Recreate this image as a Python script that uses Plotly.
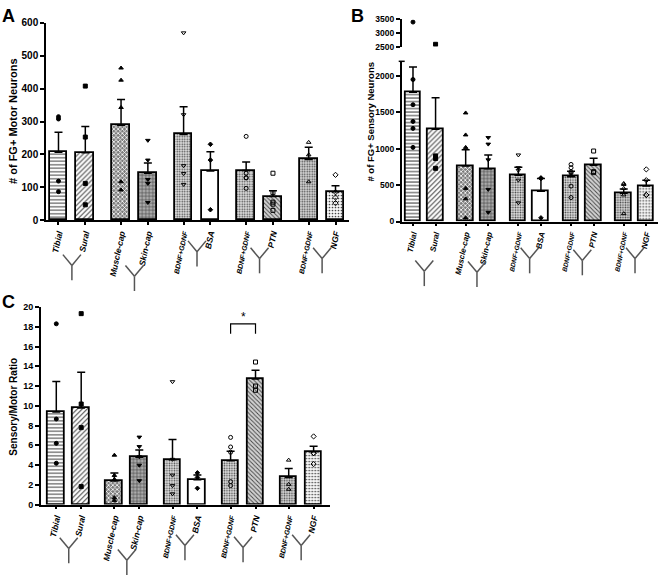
import plotly.graph_objects as go

# ---------------- data ----------------
categories = ["Tibial", "Sural", "Muscle-cap", "Skin-cap", "BDNF+GDNF", "BSA",
              "BDNF+GDNF", "PTN", "BDNF+GDNF", "NGF"]
pair_of = [0, 0, 1, 1, 2, 2, 3, 3, 4, 4]
member_of = [0, 1, 0, 1, 0, 1, 0, 1, 0, 1]

motor_mean = [207, 205, 289, 143, 261, 150, 151, 72, 185, 87]
motor_sem = [61, 80, 78, 31, 84, 58, 26, 18, 37, 18]
motor_points = [[308, 315, 119, 87], [408, 253, 112, 47], [463, 426, 343, 117, 92],
                [243, 183, 124, 112, 54], [570, 321, 166, 142, 109], [231, 183, 32],
                [255, 143, 129, 129, 97], [143, 84, 55, 49, 30], [237, 199, 117],
                [138, 85, 69, 52]]

sensory_mean = [1775, 1268, 761, 723, 636, 416, 614, 772, 387, 489]
sensory_sem = [347, 430, 225, 191, 110, 176, 75, 97, 59, 79]
sensory_points = [[3404, 1950, 1604, 1374, 1279, 1018], [2584, 901, 865, 730],
                  [1491, 1189, 1018, 455, 311, 50], [1153, 1063, 847, 441, 126],
                  [914, 739, 703, 568, 257], [599, 590, 50],
                  [784, 739, 680, 667, 486, 329], [968, 685, 671],
                  [523, 509, 455, 365, 108], [716, 568, 365, 365]]

ratio_mean = [9.37, 9.78, 2.39, 4.78, 4.53, 2.5, 4.44, 12.7, 2.75, 5.34]
ratio_sem = [3.1, 3.62, 0.81, 0.75, 2.07, 0.5, 0.96, 0.9, 0.89, 0.56]
ratio_points = [[18.3, 8.66, 6.2, 4.18], [19.33, 10.18, 7.79, 1.82],
                [5.0, 2.95, 2.55, 0.7, 0.4], [6.83, 5.87, 4.84, 3.98, 2.42],
                [12.44, 4.58, 2.98, 1.92, 1.09], [3.21, 2.75, 1.65],
                [6.8, 5.83, 5.3, 2.32, 1.92], [14.43, 12.0, 11.57],
                [4.5, 2.05, 1.55], [6.9, 5.2, 5.2, 4.1]]

motor_ticks = [0, 100, 200, 300, 400, 500, 600]
sensory_ticks_low = [0, 500, 1000, 1500, 2000]
sensory_ticks_high = [2500, 3000, 3500]
ratio_ticks = [0, 2, 4, 6, 8, 10, 12, 14, 16, 18, 20]

# ---------------- styling ----------------
W, H = 660, 582
FONT = "Liberation Sans, Arial, sans-serif"
GROUP_STEP = 2.333
pos = [p * GROUP_STEP + m for p, m in zip(pair_of, member_of)]

pat_shape = ["-", "/", "x", "+", ".", "", ".", "\\", ".", "."]
pat_fg = ["#6a6a6a", "#5a5a5a", "#262626", "#3c3c3c", "#8a8a8a", "#ffffff",
          "#8a8a8a", "#3a3a3a", "#7a7a7a", "#a0a0a0"]
bar_bg = ["#ffffff", "#ffffff", "#7c7c7c", "#ababab", "#e2e2e2", "#ffffff",
          "#e2e2e2", "#d2d2d2", "#d8d8d8", "#f7f7f7"]
pat_size = [3.5, 3.5, 3, 3.5, 2.5, 8, 2.5, 3, 2.5, 3]
pat_sol = [0.3, 0.3, 0.45, 0.3, 0.35, 0.3, 0.35, 0.3, 0.35, 0.25]
symbols = ["circle", "square", "triangle-up", "triangle-down", "triangle-down-open",
           "diamond", "circle-open", "square-open", "triangle-up-open", "diamond-open"]

# panel geometry in pixels (left, right, top, bottom) and x ranges
panels = {
    "A": dict(px=(46, 349), py=(18.3, 219.0), xr=(-0.466, 10.835), bw=0.66),
    "B": dict(px=(401.7, 658), py=(57.3, 220.3), xr=(-0.5, 10.85), bw=0.69),
    "C": dict(px=(40.7, 330), py=(307.3, 508.3), xr=(-0.626, 10.99), bw=0.665),
}
B_upper_py = (14.7, 42.3)


def dom_x(p):
    return [p[0] / W, p[1] / W]


def dom_y(p):
    return [1 - p[1] / H, 1 - p[0] / H]


def tick_text(size_small):
    out = []
    for c in categories:
        if c.startswith("BDNF"):
            out.append('<span style="font-size:%gpx"><i>%s</i></span>' % (size_small, c))
        else:
            out.append("<i>%s</i>" % c)
    return out


fig = go.Figure()
panels_w = {"x": panels["A"]["bw"], "x2": panels["B"]["bw"], "x3": panels["C"]["bw"]}


def add_panel(xa, ya, means, sems, points, yhigh=None, split=None):
    fig.add_trace(go.Bar(
        x=pos, y=means, xaxis=xa, yaxis=ya,
        width=panels_w[xa],
        marker=dict(color=bar_bg, line=dict(color="black", width=1.8),
                    pattern=dict(shape=pat_shape, fgcolor=pat_fg, fgopacity=1,
                                 size=pat_size, solidity=pat_sol, fillmode="overlay")),
        error_y=dict(type="data", array=sems, arrayminus=[0] * len(sems),
                     symmetric=False, color="black", thickness=1.5, width=4),
        hoverinfo="skip"))
    for i, pts in enumerate(points):
        low = [v for v in pts if split is None or v <= split]
        high = [v for v in pts if split is not None and v > split]
        sym = symbols[i]
        size = 3.5 if sym == "diamond" else 4
        mk = dict(symbol=sym, size=size, color="black",
                  line=dict(color="black", width=1))
        if low:
            fig.add_trace(go.Scatter(x=[pos[i]] * len(low), y=low, mode="markers",
                                     xaxis=xa, yaxis=ya, marker=mk, hoverinfo="skip"))
        if high:
            fig.add_trace(go.Scatter(x=[pos[i]] * len(high), y=high, mode="markers",
                                     xaxis=xa, yaxis=yhigh, marker=mk, hoverinfo="skip"))


add_panel("x", "y", motor_mean, motor_sem, motor_points)
add_panel("x2", "y2", sensory_mean, sensory_sem, sensory_points, yhigh="y3", split=2200)
add_panel("x3", "y4", ratio_mean, ratio_sem, ratio_points)

axis_common = dict(showgrid=False, zeroline=False, showline=True, linecolor="black",
                   linewidth=1.5, ticks="outside", tickcolor="black", tickwidth=1.5)


def xaxis_cfg(key, anchor, fs, fs_small):
    p = panels[key]
    return dict(axis_common, domain=dom_x(p["px"]), range=list(p["xr"]), anchor=anchor,
                tickvals=pos, ticktext=tick_text(fs_small), tickangle=-78,
                ticklen=3, tickfont=dict(family=FONT, size=fs, color="black", weight=700))


def yaxis_cfg(py, rng, tickvals, anchor, fs):
    return dict(axis_common, domain=dom_y(py), range=rng, anchor=anchor,
                tickvals=tickvals, ticklen=4,
                tickfont=dict(family=FONT, size=fs, color="black", weight=700))


fig.update_layout(
    width=W, height=H, margin=dict(l=0, r=0, t=0, b=0),
    paper_bgcolor="white", plot_bgcolor="white", showlegend=False,
    bargap=0,
    xaxis=xaxis_cfg("A", "y", 8.5, 7),
    yaxis=yaxis_cfg(panels["A"]["py"], [0, 600], motor_ticks, "x", 10),
    xaxis2=xaxis_cfg("B", "y2", 8, 6.5),
    yaxis2=yaxis_cfg(panels["B"]["py"], [0, 2200], sensory_ticks_low, "x2", 8.5),
    yaxis3=yaxis_cfg(B_upper_py, [2500, 3500], sensory_ticks_high, "x2", 8.5),
    xaxis3=xaxis_cfg("C", "y4", 8.5, 7),
    yaxis4=yaxis_cfg(panels["C"]["py"], [0, 20], ratio_ticks, "x3", 9),
)

# ---------------- annotations ----------------
ann = []
for letter, (cx, cy) in {"A": (8.5, 11), "B": (357, 11.5), "C": (8, 302)}.items():
    ann.append(dict(text="<b>%s</b>" % letter, x=cx / W, y=1 - cy / H, xref="paper",
                    yref="paper", showarrow=False, xanchor="center", yanchor="middle",
                    font=dict(family=FONT, size=18, color="black")))
for txt, (cx, cy), fs in [("# of FG+ Motor Neurons", (13.5, 118.5), 11),
                          ("# of FG+ Sensory Neurons", (370.3, 118.3), 9.5),
                          ("Sensory/Motor Ratio", (13.7, 409), 10)]:
    ann.append(dict(text="<b>%s</b>" % txt, x=cx / W, y=1 - cy / H, xref="paper",
                    yref="paper", showarrow=False, textangle=-90, xanchor="center",
                    yanchor="middle", font=dict(family=FONT, size=fs, color="black")))

# significance star over BDNF+GDNF vs PTN (panel C)
i1, i2 = 6, 7
ann.append(dict(text="*", x=(pos[i1] + pos[i2]) / 2, y=19.0, xref="x3", yref="y4",
                showarrow=False, font=dict(family=FONT, size=12, color="black"),
                yanchor="middle"))
fig.update_layout(annotations=ann)

# ---------------- shapes ----------------
shapes = []
shapes.append(dict(type="path", xref="x3", yref="y4",
                   path="M %f,17.3 L %f,18.3 L %f,18.3 L %f,17.3" % (pos[i1], pos[i1], pos[i2], pos[i2]),
                   line=dict(color="black", width=1.2)))
# broken-axis cap on B lower axis
shapes.append(dict(type="line", xref="paper", yref="paper",
                   x0=398.7 / W, x1=404.7 / W, y0=1 - 57.3 / H, y1=1 - 57.3 / H,
                   line=dict(color="black", width=1.5)))

# Y-shaped pairing connectors under the labels
y_vertex = {"A": [265, 276, 251, 258, 258],
            "B": [271, 272, 258, 260, 258],
            "C": [553, 565, 550, 552, 550]}
for key in ["A", "B", "C"]:
    p = panels[key]
    ppu = (p["px"][1] - p["px"][0]) / (p["xr"][1] - p["xr"][0])
    for k in range(5):
        centre = k * GROUP_STEP + 0.5
        cx = p["px"][0] + (centre - p["xr"][0]) * ppu
        vy = y_vertex[key][k]
        hw, arm, stem = 9, 11, 15
        segs = [((cx - hw, vy - arm), (cx, vy)), ((cx + hw, vy - arm), (cx, vy)),
                ((cx, vy), (cx, vy + stem))]
        for (xa0, ya0), (xa1, ya1) in segs:
            shapes.append(dict(type="line", xref="paper", yref="paper",
                               x0=xa0 / W, y0=1 - ya0 / H, x1=xa1 / W, y1=1 - ya1 / H,
                               line=dict(color="#555555", width=1.5)))
fig.update_layout(shapes=shapes)

fig.write_html("out.html", config={"displayModeBar": False},
               post_script="document.body.style.margin='0';document.body.style.overflow='hidden';")
